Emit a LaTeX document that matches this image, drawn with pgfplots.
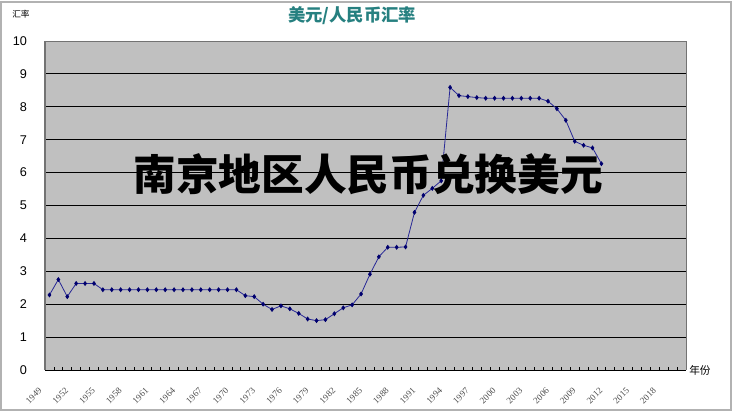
\documentclass[border=0pt]{standalone}
\usepackage{fontspec}
\setmainfont{Liberation Sans}
\newfontfamily\serifnum{Liberation Serif}
\newfontfamily\cjk{Noto Sans CJK SC}
\usepackage{pgfplots}
\pgfplotsset{compat=1.18}
\definecolor{plotbg}{RGB}{192,192,192}
\definecolor{titleteal}{RGB}{38,128,128}
\definecolor{linenavy}{RGB}{40,40,150}
\definecolor{marknavy}{RGB}{0,0,110}

\begin{document}
\begin{tikzpicture}
\begin{axis}[
    at={(0,0)}, anchor=south west,
    scale only axis,
    width=480.75pt, height=246.75pt,
    xmin=1948.5, xmax=2020.5,
    ymin=0, ymax=10,
    axis background/.style={fill=plotbg},
    axis line style={draw=none},
    xtick={1949,1952,...,2018},
    minor xtick={1948.5,1949.5,...,2020.5},
    xtick pos=bottom, ytick pos=left,
    major tick length=0pt,
    minor tick length=2.6pt,
    minor tick style={black, line width=0.6pt},
    ytick={0,1,...,10},
    ymajorgrids,
    major grid style={black, line width=0.6pt},
    /pgf/number format/assume math mode=true,
    /pgf/number format/1000 sep={},
    xticklabel style={font=\serifnum\fontsize{6.8}{7}\selectfont, color=black!70,
        xshift=-4.5pt, yshift=-12pt, rotate=45, anchor=east},
    yticklabel style={font=\fontsize{9.5}{10}\selectfont, xshift=-10pt},
]
\addplot[color=linenavy, line width=0.6pt, mark=diamond*, mark size=1.4pt,
    mark options={fill=marknavy, draw=marknavy}] coordinates {
    (1949,2.28) (1950,2.75) (1951,2.23) (1952,2.63) (1953,2.63) (1954,2.63)
    (1955,2.44) (1956,2.44) (1957,2.44) (1958,2.44) (1959,2.44) (1960,2.44)
    (1961,2.44) (1962,2.44) (1963,2.44) (1964,2.44) (1965,2.44) (1966,2.44)
    (1967,2.44) (1968,2.44) (1969,2.44) (1970,2.44) (1971,2.26) (1972,2.23)
    (1973,2.00) (1974,1.84) (1975,1.95) (1976,1.86) (1977,1.72) (1978,1.55)
    (1979,1.50) (1980,1.53) (1981,1.71) (1982,1.89) (1983,1.98) (1984,2.31)
    (1985,2.91) (1986,3.44) (1987,3.73) (1988,3.73) (1989,3.74) (1990,4.79)
    (1991,5.31) (1992,5.52) (1993,5.75) (1994,8.59) (1995,8.34) (1996,8.31)
    (1997,8.28) (1998,8.26) (1999,8.26) (2000,8.26) (2001,8.26) (2002,8.26)
    (2003,8.26) (2004,8.26) (2005,8.17) (2006,7.94) (2007,7.59) (2008,6.95)
    (2009,6.83) (2010,6.75) (2011,6.27)
};
\end{axis}
% pixel frame: (0,0) top left of the 734x416 picture
\begin{scope}[shift={(-33.75pt,277.5pt)}, x=0.75pt, y=-0.75pt]
  \path (0,0) rectangle (734,416);
  \draw[black!30, line width=0.8pt] (1,2) rectangle (731,410);
  \draw[black!55, line width=0.5pt] (45,41) -- (686,41) -- (686,370);
  \draw[black!55, line width=1.5pt] (45,41) -- (45,370.5);
  \draw[black, line width=0.7pt] (45,370) -- (686,370);
  \node[font=\cjk\bfseries\fontsize{13}{13}\selectfont, text=titleteal] at (352,16) {美元/人民币汇率};
  \node[font=\cjk\fontsize{6.5}{7}\selectfont] at (21,14) {汇率};
  \node[font=\cjk\fontsize{8}{9}\selectfont, anchor=west, inner sep=0pt] at (689,370) {年份};
  \node[font=\cjk\bfseries\fontsize{32}{32}\selectfont, text=black] at (368,174) {南京地区人民币兑换美元};
\end{scope}
\end{tikzpicture}
\end{document}
